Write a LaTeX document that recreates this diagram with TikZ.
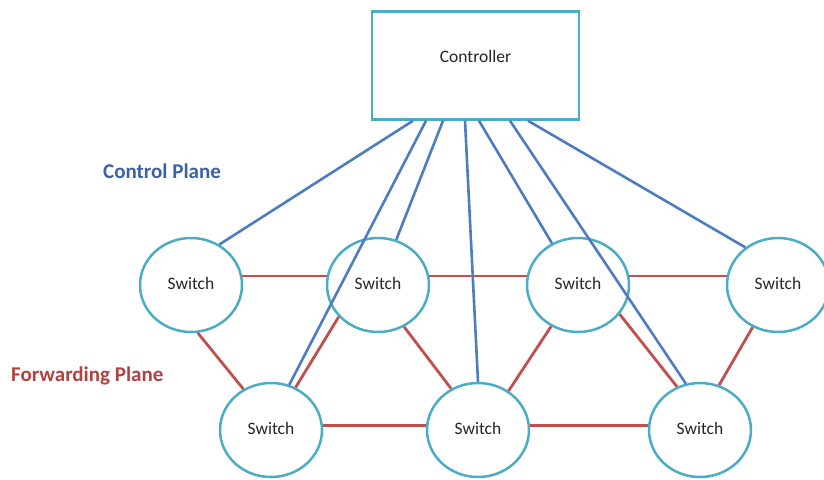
\documentclass[tikz,border=0pt]{standalone}
\usepackage{fontspec}
\setmainfont{Carlito}
\usetikzlibrary{shapes.geometric}
\definecolor{ringteal}{HTML}{4BACC6}
\definecolor{ctlblue}{HTML}{4F7CC0}
\definecolor{fwdred}{HTML}{C0504D}
\definecolor{ctltext}{HTML}{3A62A6}
\definecolor{fwdtext}{HTML}{B0423F}
\definecolor{bodytext}{HTML}{262626}
\tikzset{
  switchnode/.style={ellipse, draw=ringteal, line width=2.5pt, fill=white,
    minimum width=102pt, minimum height=94pt, inner sep=0pt},
  ctrlbox/.style={rectangle, draw=ringteal, line width=2.5pt, fill=white,
    minimum width=207pt, minimum height=108pt, inner sep=0pt},
  bodyfont/.style={font=\fontsize{17.5}{20}\selectfont, text=bodytext},
  ctlline/.style={draw=ctlblue, line width=2.6pt},
  fwdline/.style={draw=fwdred, line width=2.8pt},
  planelabel/.style={font=\bfseries\fontsize{21}{24}\selectfont, inner sep=0pt}
}
\begin{document}
\begin{tikzpicture}[x=1pt, y=-1pt]
\useasboundingbox (0,0) rectangle (824,479);

% switches
\path
  (191,285) node[switchnode] (s1) {}
  (378,285) node[switchnode] (s2) {}
  (578,285) node[switchnode] (s3) {}
  (778,285) node[switchnode] (s4) {}
  (271,430) node[switchnode] (b1) {}
  (478,430) node[switchnode] (b2) {}
  (700,430) node[switchnode] (b3) {};

% forwarding plane links
\draw[fwdline] (s1.10) -- (s2.170);
\draw[fwdline] (s2.10) -- (s3.170);
\draw[fwdline] (s3.10) -- (s4.170);
\draw[fwdline] (b1.5) -- (b2.175);
\draw[fwdline] (b2.5) -- (b3.175);
\draw[fwdline] (s1.-82) -- (b1.124);
\draw[fwdline] (s2.219) -- (b1.60);
\draw[fwdline] (s2.-58) -- (b2.123);
\draw[fwdline] (s3.237) -- (b2.52);
\draw[fwdline] (s3.-35) -- (b3.118);
\draw[fwdline] (s4.239) -- (b3.67);

% controller
\node[ctrlbox] (ctrl) at (475.5,65.5) {};
\node[bodyfont] (ctrltext) at ([yshift=9.5pt]ctrl.center) {Controller};

% control plane links
\draw[ctlline] ([xshift=-62.5pt]ctrl.south) -- (s1.55);
\draw[ctlline] ([xshift=-49.5pt]ctrl.south) -- (b1.68);
\draw[ctlline] ([xshift=-32.5pt]ctrl.south) -- (s2.68);
\draw[ctlline] ([xshift=-10.5pt]ctrl.south) -- (b2.90);
\draw[ctlline] ([xshift=3.5pt]ctrl.south) -- (s3.122);
\draw[ctlline] ([xshift=34.5pt]ctrl.south) -- (b3.107);
\draw[ctlline] ([xshift=52.5pt]ctrl.south) -- (s4.131);

% switch labels drawn over the links
\foreach \n in {s1,s2,s3,s4,b1,b2,b3}
  \node[bodyfont] at ([yshift=2pt]\n.center) {Switch};

% plane captions
\node[planelabel, text=ctltext, anchor=west] (cplane) at (103,171) {Control Plane};
\node[planelabel, text=fwdtext, anchor=west] (fplane) at (11,376) {Forwarding Plane};
\end{tikzpicture}
\end{document}
